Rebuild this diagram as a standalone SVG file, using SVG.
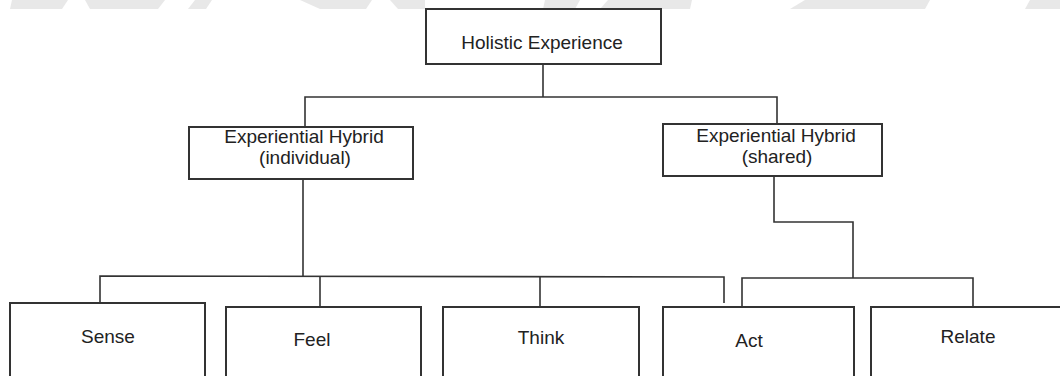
<svg xmlns="http://www.w3.org/2000/svg" width="1060" height="376" viewBox="0 0 1060 376">
<style>
.box{fill:#fff;stroke:#333;stroke-width:2}
.ln{fill:none;stroke:#333;stroke-width:1.6}
.t{font-family:"Liberation Sans",Arial,sans-serif;font-size:19px;fill:#222;text-anchor:middle}
.wm{fill:#e8e8e8}
</style>
<rect width="1060" height="376" fill="#fff"/>
<g id="watermark">
<polygon class="wm" points="12,0 68,0 62,9 10,9"/>
<polygon class="wm" points="85,0 165,0 158,9 90,9"/>
<polygon class="wm" points="195,0 212,0 206,9 188,9"/>
<polygon class="wm" points="300,0 372,0 366,9 320,9"/>
<polygon class="wm" points="390,0 425,0 425,9 398,9"/>
<polygon class="wm" points="545,0 580,0 575,9 543,9"/>
<polygon class="wm" points="608,0 692,0 690,9 600,9"/>
<polygon class="wm" points="805,0 930,0 925,9 790,9"/>
<polygon class="wm" points="1030,0 1060,0 1060,9 1025,9"/>
</g>
<g id="connectors">
<polyline class="ln" points="543,64 543,97"/>
<polyline class="ln" points="305,127 305,97 777,97 777,124"/>
<polyline class="ln" points="303,179 303,276"/>
<polyline class="ln" points="100,303 100,276 724,277 724,303"/>
<polyline class="ln" points="320,276 320,307"/>
<polyline class="ln" points="540,276.5 540,307"/>
<polyline class="ln" points="774,176 774,222 853,222 853,278"/>
<polyline class="ln" points="742,307 742,278 973,278 973,307"/>
</g>
<g id="holistic">
<rect class="box" x="426" y="9" width="235" height="55"/>
<text class="t" x="542" y="49">Holistic Experience</text>
</g>
<g id="hybrid-individual">
<rect class="box" x="189" y="127" width="224" height="52"/>
<text class="t" x="304" y="143">Experiential Hybrid</text>
<text class="t" x="305" y="164">(individual)</text>
</g>
<g id="hybrid-shared">
<rect class="box" x="663" y="124" width="219" height="52"/>
<text class="t" x="776" y="142">Experiential Hybrid</text>
<text class="t" x="777" y="163">(shared)</text>
</g>
<g id="sense">
<rect class="box" x="10" y="303" width="195" height="90"/>
<text class="t" x="108" y="343">Sense</text>
</g>
<g id="feel">
<rect class="box" x="226" y="307" width="195" height="90"/>
<text class="t" x="312" y="346">Feel</text>
</g>
<g id="think">
<rect class="box" x="443" y="307" width="196" height="90"/>
<text class="t" x="541" y="344">Think</text>
</g>
<g id="act">
<rect class="box" x="663" y="307" width="191" height="90"/>
<text class="t" x="749" y="347">Act</text>
</g>
<g id="relate">
<rect class="box" x="871" y="307" width="200" height="90"/>
<text class="t" x="968" y="343">Relate</text>
</g>
</svg>
